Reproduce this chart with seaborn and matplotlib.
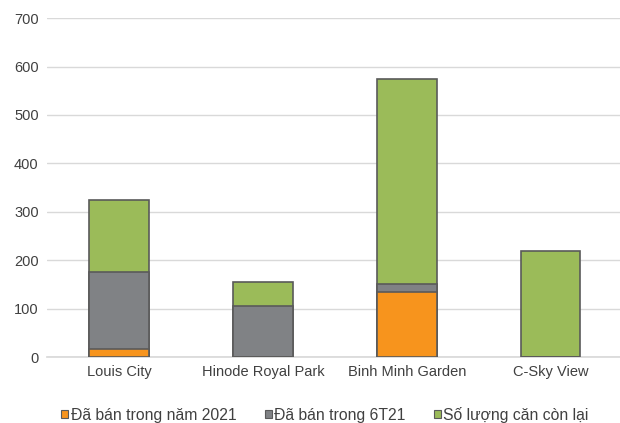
import pandas as pd
import seaborn as sns
import matplotlib.pyplot as plt
from matplotlib.patches import Patch

# du lieu doc tu hinh
du_an = ['Louis City', 'Hinode Royal Park', 'Binh Minh Garden', 'C-Sky View']
ban_2021 = [16, 0, 135, 0]
ban_6t21 = [159, 106, 15, 0]
con_lai = [150, 49, 425, 220]

ten_series = ['Đã bán trong năm 2021', 'Đã bán trong 6T21', 'Số lượng căn còn lại']
mau = ['#F7941D', '#808285', '#9BBB59']

sns.set_theme(style='white')
plt.rcParams['font.family'] = ['Liberation Sans', 'DejaVu Sans']

df = pd.DataFrame({'du_an': du_an, 'a': ban_2021, 'b': ban_6t21, 'c': con_lai})
# cong don de ve chong
df['top_b'] = df['a'] + df['b']
df['top_c'] = df['top_b'] + df['c']

fig = plt.figure(figsize=(6.2, 4.23), dpi=100)
ax = fig.add_axes([0.0758, 0.156, 0.929, 0.801])

for cot, m in zip(['top_c', 'top_b', 'a'], mau[::-1]):
    sns.barplot(data=df, x='du_an', y=cot, color=m, width=0.41,
                edgecolor='#5a5a5a', linewidth=1.2, saturation=1, ax=ax, zorder=3)

ax.set_ylim(0, 700)
ax.set_yticks(range(0, 701, 100))
ax.grid(axis='y', color='#d9d9d9', linewidth=1, zorder=0)
ax.set_xlabel('')
ax.set_ylabel('')
for s in ['top', 'right', 'left']:
    ax.spines[s].set_visible(False)
ax.spines['bottom'].set_color('#d9d9d9')
ax.tick_params(axis='both', length=0, labelsize=10.5, colors='#404040', pad=6)

handles = [Patch(facecolor=m, edgecolor='#5a5a5a', linewidth=0.8) for m in mau]
fig.legend(handles, ten_series, loc='center', bbox_to_anchor=(0.524, 0.02),
           ncol=3, frameon=False, fontsize=11.3, handlelength=0.45, handleheight=0.45,
           handletextpad=0.15, columnspacing=1.8, labelcolor='#404040',
           borderpad=0, borderaxespad=0)

fig.savefig('out.png', dpi=100)
